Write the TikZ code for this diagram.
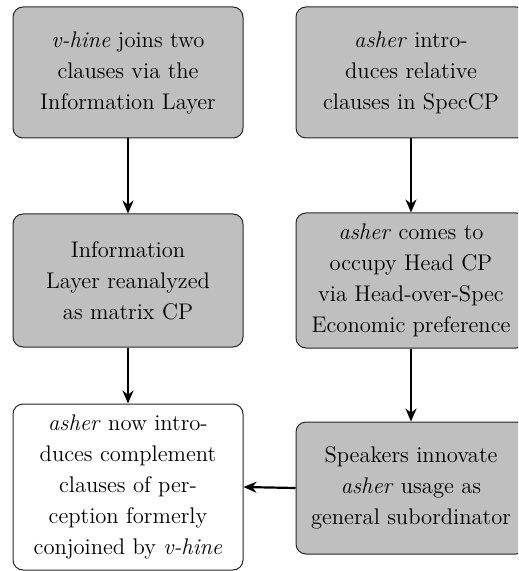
\documentclass[tikz,border=0pt]{standalone}
\usetikzlibrary{arrows.meta}
\tikzset{
  stage/.style={draw=black!85, line width=0.5pt, rounded corners=5pt,
    fill=#1, align=center, minimum width=115pt, inner sep=2pt,
    font=\fontsize{11.3}{15.5}\selectfont},
  stage/.default={black!25},
  flow/.style={line width=1.1pt, -{Stealth[length=6.5pt,width=5.5pt]}}
}
\begin{document}
\begin{tikzpicture}[x=0.5pt, y=-0.5pt]
  \useasboundingbox (0,0) rectangle (518,571);
  \clip (0,0) rectangle (518,571);
  % left column
  \node[stage, minimum height=65.5pt] (vhine) at (128,72.5)
    {\textit{v-hine} joins two\\clauses via the\\Information Layer};
  \node[stage, minimum height=66.5pt] (reanal) at (128,280.5)
    {Information\\Layer reanalyzed\\as matrix CP};
  \node[stage=white, minimum height=83pt] (compl) at (128,487)
    {\textit{asher} now intro-\\duces complement\\clauses of per-\\ception formerly\\conjoined by \textit{v-hine}};
  % right column
  \node[stage, minimum height=65.5pt] (relcl) at (411,72.5)
    {\textit{asher} intro-\\duces relative\\clauses in SpecCP};
  \node[stage, minimum height=67.5pt] (headcp) at (411,280.5)
    {\textit{asher} comes to\\occupy Head CP\\via Head-over-Spec\\Economic preference};
  \node[stage, minimum height=66pt] (innov) at (411,488)
    {Speakers innovate\\\textit{asher} usage as\\general subordinator};
  % connectors
  \draw[flow] (vhine) -- (reanal);
  \draw[flow] (reanal) -- (compl);
  \draw[flow] (relcl) -- (headcp);
  \draw[flow] (headcp) -- (innov);
  \draw[flow] (innov.west) -- (compl.east);
\end{tikzpicture}
\end{document}
